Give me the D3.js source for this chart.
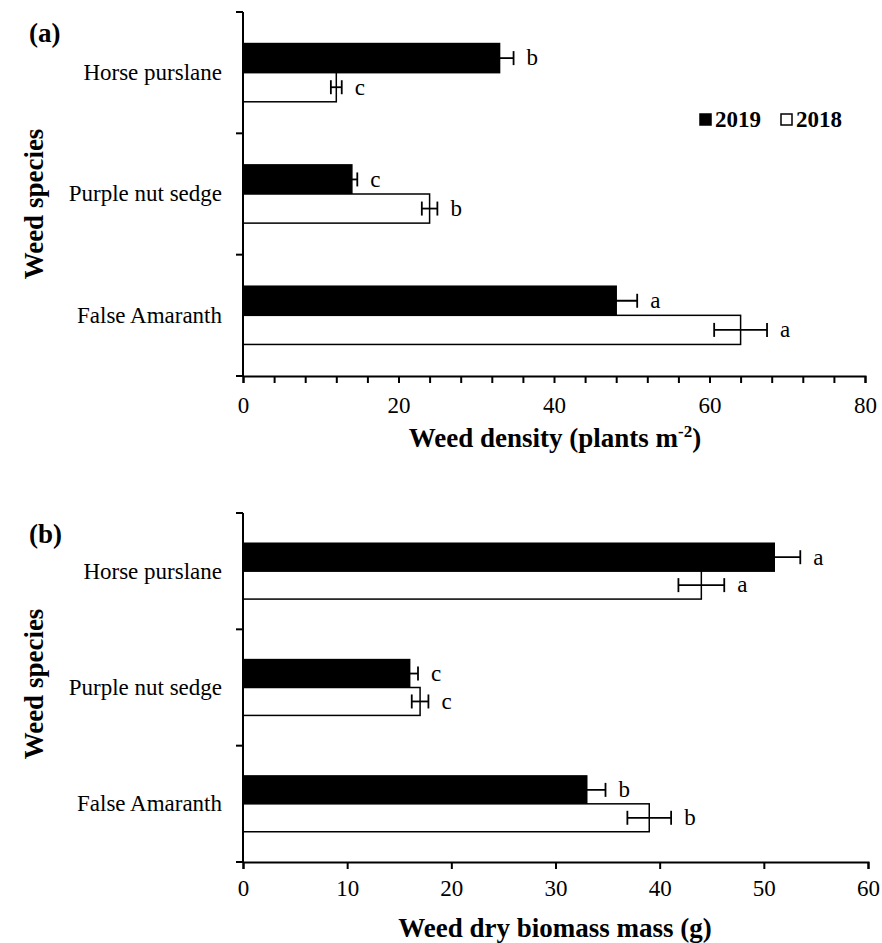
<!DOCTYPE html>
<html>
<head>
<meta charset="utf-8">
<script src="https://cdn.jsdelivr.net/npm/d3@7"></script>
<style>
  body { margin: 0; background: #fff; }
  svg { font-family: "Liberation Serif", "Times New Roman", serif; }
</style>
</head>
<body>
<script>
// Categories and series
const species = ["Horse purslane", "Purple nut sedge", "False Amaranth"];
const years = ["2019", "2018"];

// Panel (a): weed density (plants m-2)
const density2019 = [33, 14, 48];
const density2019se = [1.8, 0.7, 2.7];
const density2018 = [12, 24, 64];
const density2018se = [0.7, 1.0, 3.4];
const densityLetters2019 = ["b", "c", "a"];
const densityLetters2018 = ["c", "b", "a"];

// Panel (b): weed dry biomass (g)
const biomass2019 = [51, 16, 33];
const biomass2019se = [2.5, 0.8, 1.8];
const biomass2018 = [44, 17, 39];
const biomass2018se = [2.2, 0.8, 2.1];
const biomassLetters2019 = ["a", "c", "b"];
const biomassLetters2018 = ["a", "c", "b"];

const width = 882, height = 943;

const svg = d3.select("body").append("svg")
    .attr("width", width)
    .attr("height", height);

function buildRows(v19, se19, l19, v18, se18, l18) {
    const rows = [];
    species.forEach((s, i) => {
        rows.push({ species: s, year: "2019", value: v19[i], se: se19[i], letter: l19[i] });
        rows.push({ species: s, year: "2018", value: v18[i], se: se18[i], letter: l18[i] });
    });
    return rows;
}

function drawPanel(opts) {
    const g = svg.append("g");
    const x = d3.scaleLinear().domain([0, opts.xMax]).range([243, opts.xRight]);
    const y = d3.scaleBand().domain(species).range([opts.top, opts.bottom])
        .paddingInner(0.52).paddingOuter(0.26);
    const ySub = d3.scaleBand().domain(years).range([0, y.bandwidth()]);
    const step = y.step();

    const rows = buildRows(...opts.data);

    // bars
    g.append("g").selectAll("rect")
        .data(rows)
        .join("rect")
        .attr("x", x(0))
        .attr("y", d => y(d.species) + ySub(d.year))
        .attr("width", d => x(d.value) - x(0))
        .attr("height", ySub.bandwidth())
        .attr("fill", d => d.year === "2019" ? "#000" : "#fff")
        .attr("stroke", "#000")
        .attr("stroke-width", 1.5);

    // error bars
    const eb = g.append("g").attr("stroke", "#000").attr("stroke-width", 1.8);
    rows.forEach(d => {
        const cy = y(d.species) + ySub(d.year) + ySub.bandwidth() / 2;
        const lo = x(d.value - d.se), hi = x(d.value + d.se);
        eb.append("line").attr("x1", lo).attr("x2", hi).attr("y1", cy).attr("y2", cy);
        [lo, hi].forEach(px => {
            eb.append("line").attr("x1", px).attr("x2", px)
                .attr("y1", cy - 7).attr("y2", cy + 7);
        });
    });
    // letters
    g.append("g").selectAll("text")
        .data(rows)
        .join("text")
        .attr("x", d => x(d.value + d.se) + 13)
        .attr("y", d => y(d.species) + ySub(d.year) + ySub.bandwidth() / 2)
        .attr("dy", "0.32em")
        .attr("font-size", 23)
        .text(d => d.letter);

    // y axis (category boundaries)
    const yAxis = g.append("g").attr("stroke", "#000");
    yAxis.append("line").attr("x1", x(0)).attr("x2", x(0))
        .attr("y1", opts.top).attr("y2", opts.bottom).attr("stroke-width", 2);
    d3.range(species.length + 1).forEach(i => {
        const py = opts.top + i * step;
        yAxis.append("line").attr("x1", x(0) - 7).attr("x2", x(0))
            .attr("y1", py).attr("y2", py).attr("stroke-width", 2);
    });
    g.append("g").selectAll("text")
        .data(species)
        .join("text")
        .attr("x", 222)
        .attr("y", d => y(d) + y.bandwidth() / 2)
        .attr("dy", "0.32em")
        .attr("text-anchor", "end")
        .attr("font-size", 23)
        .text(d => d);

    // x axis
    const xAxis = d3.axisBottom(x)
        .tickValues(d3.range(0, opts.xMax + 0.001, opts.minorStep))
        .tickSize(7)
        .tickPadding(opts.tickPad)
        .tickFormat(d => d % opts.labelStep === 0 ? d : "");
    const xg = g.append("g")
        .attr("transform", `translate(0,${opts.bottom})`)
        .call(xAxis);
    xg.select(".domain").attr("stroke-width", 2);
    xg.selectAll(".tick line").attr("stroke-width", 2);
    xg.selectAll(".tick text")
        .attr("font-size", 23)
        .attr("font-family", "Liberation Serif, serif")
        .attr("fill", "#000");

    // titles
    const xt = g.append("text")
        .attr("x", 555)
        .attr("y", opts.xTitleY)
        .attr("text-anchor", "middle")
        .attr("font-size", 27)
        .attr("font-weight", "bold");
    opts.xTitle(xt);

    g.append("text")
        .attr("transform", `translate(43,${opts.yTitleC}) rotate(-90)`)
        .attr("text-anchor", "middle")
        .attr("font-size", 27)
        .attr("font-weight", "bold")
        .text("Weed species");

    g.append("text")
        .attr("x", 29)
        .attr("y", opts.top + 30)
        .attr("font-size", 27)
        .attr("font-weight", "bold")
        .text(opts.panel);

    return { x, y };
}

drawPanel({
    top: 12, bottom: 376, xMax: 80, xRight: 865, minorStep: 4, labelStep: 20,
    tickPad: 14, xTitleY: 447, yTitleC: 204, panel: "(a)",
    data: [density2019, density2019se, densityLetters2019, density2018, density2018se, densityLetters2018],
    xTitle: t => {
        t.append("tspan").text("Weed density (plants m");
        t.append("tspan").attr("dy", -10).attr("font-size", 17).text("-2");
        t.append("tspan").attr("dy", 10).text(")");
    }
});

drawPanel({
    top: 513, bottom: 862, xMax: 60, xRight: 868, minorStep: 10, labelStep: 10,
    tickPad: 11, xTitleY: 937, yTitleC: 684, panel: "(b)",
    data: [biomass2019, biomass2019se, biomassLetters2019, biomass2018, biomass2018se, biomassLetters2018],
    xTitle: t => t.text("Weed dry biomass mass (g)")
});

// legend (panel a)
const legend = svg.append("g").attr("font-size", 23).attr("font-weight", "bold");
const legendItems = [
    { label: "2019", fill: "#000", x: 700 },
    { label: "2018", fill: "#fff", x: 781 }
];
legendItems.forEach(d => {
    legend.append("rect").attr("x", d.x).attr("y", 114).attr("width", 11).attr("height", 11)
        .attr("fill", d.fill).attr("stroke", "#000").attr("stroke-width", 1.5);
    legend.append("text").attr("x", d.x + 15).attr("y", 127).text(d.label);
});
</script>
</body>
</html>
